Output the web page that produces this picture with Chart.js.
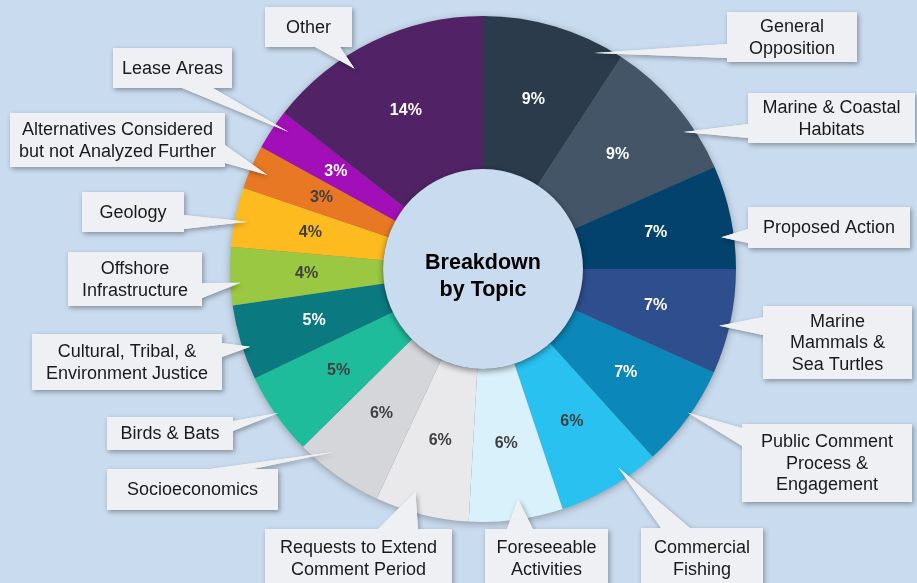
<!DOCTYPE html>
<html>
<head>
<meta charset="utf-8">
<script src="https://cdn.jsdelivr.net/npm/chart.js@4/dist/chart.umd.min.js"></script>
<style>
html, body { margin: 0; padding: 0; background: #c9dbee; }
#wrap { width: 917px; height: 583px; position: relative; overflow: hidden; }
</style>
</head>
<body>
<div id="wrap"><canvas id="c" width="917" height="583"></canvas></div>
<script>
// topics, clockwise from 12 o'clock
const topics = [
  "General\nOpposition", "Marine & Coastal\nHabitats", "Proposed Action",
  "Marine\nMammals &\nSea Turtles", "Public Comment\nProcess &\nEngagement",
  "Commercial\nFishing", "Foreseeable\nActivities", "Requests to Extend\nComment Period",
  "Socioeconomics", "Birds & Bats", "Cultural, Tribal, &\nEnvironment Justice",
  "Offshore\nInfrastructure", "Geology", "Alternatives Considered\nbut not Analyzed Further",
  "Lease Areas", "Other"
]
// share of comments (slice size)
const shares = [9.2, 9.2, 6.6, 6.7, 6.6, 6.6, 6.0, 6.0, 5.7, 5.3, 4.8, 3.7, 3.8, 2.8, 2.6, 14.4]
// printed labels
const pctLabels = ["9%", "9%", "7%", "7%", "7%", "6%", "6%", "6%", "6%", "5%", "5%", "4%", "4%", "3%", "3%", "14%"]
const sliceColors = [
  "#2b3b4c", "#435567", "#03426d", "#2f4e8e", "#0b87b9", "#29c1ef", "#d9f1fb", "#e9e9eb",
  "#d5d6da", "#1fbc9b", "#0b7a80", "#9bc843", "#fdbb1f", "#e87823", "#a20fb8", "#512366"
]
const pctColors = [
  "#fff", "#fff", "#fff", "#fff", "#fff", "#404040", "#404040", "#404040",
  "#404040", "#404040", "#fff", "#404040", "#404040", "#404040", "#fff", "#fff"
]

// callout boxes: box [x,y,w,h], base of the pointer on the box edge,
// t = position of the tip along the slice's angle, rf = fraction of outer radius
const callouts = [
  { box: [727, 12, 130, 50], base: [[727, 44], [727, 58]], t: .82, rf: .96 },
  { box: [748, 93, 167, 50], base: [[748, 124], [748, 138]], t: .68, rf: .96 },
  { box: [748, 207, 162, 41], base: [[748, 229], [748, 243]], t: .68, rf: .95 },
  { box: [763, 306, 149, 73], base: [[763, 317], [763, 335]], t: .56, rf: .96 },
  { box: [742, 424, 170, 78], base: [[742, 428], [742, 446]], t: .46, rf: .99 },
  { box: [641, 528, 122, 60], base: [[661, 528], [690, 528]], t: .33, rf: .95 },
  { box: [485, 529, 123, 58], base: [[507, 529], [533, 529]], t: .45, rf: .92 },
  { box: [265, 529, 187, 58], base: [[378, 529], [418, 529]], t: .63, rf: .92 },
  { box: [107, 469, 171, 41], base: [[210, 469], [253, 469]], t: .69, rf: .93 },
  { box: [107, 417, 126, 33], base: [[233, 421], [233, 431]], t: .5, rf: .99 },
  { box: [32, 334, 190, 56], base: [[222, 343], [222, 357]], t: .41, rf: .97 },
  { box: [68, 252, 134, 54], base: [[202, 283], [202, 298]], t: .38, rf: .96 },
  { box: [82, 192, 102, 40], base: [[184, 215], [184, 229]], t: .46, rf: .95 },
  { box: [10, 113, 215, 54], base: [[225, 145], [225, 163]], t: .48, rf: .93 },
  { box: [113, 48, 119, 40], base: [[182, 88], [213, 88]], t: .68, rf: .94 },
  { box: [265, 7, 87, 40], base: [[315, 47], [340, 47]], t: .37, rf: .94 }
]

const centerTitle = ["Breakdown", "by Topic"]
const bg = "#c9dbee"

// 影付きの外周
const ringShadow = {
  id: "ringShadow",
  beforeDatasetsDraw(chart) {
    const ctx = chart.ctx
    const a = chart.getDatasetMeta(0).data[0].getProps(["x", "y", "outerRadius"], true)
    ctx.save()
    ctx.shadowColor = "rgba(0,0,0,0.35)"
    ctx.shadowBlur = 8
    ctx.shadowOffsetY = 2
    ctx.beginPath()
    ctx.arc(a.x, a.y, a.outerRadius - 1, 0, 2 * Math.PI)
    ctx.fillStyle = "#777"
    ctx.fill()
    ctx.restore()
  }
}

// ラベル、中央の円、吹き出し
const overlay = {
  id: "overlay",
  afterDatasetsDraw(chart) {
    const ctx = chart.ctx
    const arcs = chart.getDatasetMeta(0).data
    const p0 = arcs[0].getProps(["x", "y", "innerRadius"], true)

    // center disc
    ctx.save()
    ctx.shadowColor = "rgba(0,0,0,0.45)"
    ctx.shadowBlur = 6
    ctx.shadowOffsetY = 2
    ctx.beginPath()
    ctx.arc(p0.x, p0.y, p0.innerRadius, 0, 2 * Math.PI)
    ctx.fillStyle = bg
    ctx.fill()
    ctx.restore()

    ctx.save()
    ctx.fillStyle = "#000"
    ctx.font = "bold 21.5px 'Liberation Sans', Arial, sans-serif"
    ctx.textAlign = "center"
    ctx.textBaseline = "middle"
    ctx.fillText(centerTitle[0], p0.x, p0.y - 6)
    ctx.fillText(centerTitle[1], p0.x, p0.y + 21)

    // percent labels
    ctx.font = "bold 16px 'Liberation Sans', Arial, sans-serif"
    arcs.forEach((arc, i) => {
      const p = arc.getProps(["x", "y", "startAngle", "endAngle", "innerRadius", "outerRadius"], true)
      const a = (p.startAngle + p.endAngle) / 2
      const r = (p.innerRadius + p.outerRadius) / 2
      ctx.fillStyle = pctColors[i]
      ctx.fillText(pctLabels[i], p.x + Math.cos(a) * r, p.y + Math.sin(a) * r)
    })
    ctx.restore()

    // callouts
    arcs.forEach((arc, i) => {
      const c = callouts[i]
      const p = arc.getProps(["x", "y", "startAngle", "endAngle", "outerRadius"], true)
      const a = p.startAngle + c.t * (p.endAngle - p.startAngle)
      const tx = p.x + Math.cos(a) * c.rf * p.outerRadius
      const ty = p.y + Math.sin(a) * c.rf * p.outerRadius
      const [bx, by, bw, bh] = c.box
      const shape = () => {
        ctx.beginPath()
        ctx.rect(bx, by, bw, bh)
        ctx.moveTo(c.base[0][0], c.base[0][1])
        ctx.lineTo(tx, ty)
        ctx.lineTo(c.base[1][0], c.base[1][1])
        ctx.closePath()
      }
      ctx.save()
      ctx.shadowColor = "rgba(0,0,0,0.35)"
      ctx.shadowBlur = 5
      ctx.shadowOffsetX = 1.5
      ctx.shadowOffsetY = 2
      ctx.fillStyle = "#eef0f3"
      shape()
      ctx.fill("nonzero")
      ctx.restore()
      ctx.save()
      ctx.fillStyle = "#eef0f3"
      shape()
      ctx.fill("nonzero")
      const lines = topics[i].split("\n")
      ctx.fillStyle = "#1a1a1a"
      ctx.font = "18px 'Liberation Sans', Arial, sans-serif"
      ctx.textAlign = "center"
      ctx.textBaseline = "middle"
      const lh = 21.5
      const cy = by + bh / 2 - (lines.length - 1) * lh / 2
      lines.forEach((s, k) => ctx.fillText(s, bx + bw / 2, cy + k * lh + 1))
      ctx.restore()
    })
  }
}

new Chart(document.getElementById("c"), {
  type: "doughnut",
  data: {
    labels: topics,
    datasets: [{
      data: shares,
      backgroundColor: sliceColors,
      borderWidth: 0
    }]
  },
  options: {
    responsive: false,
    animation: false,
    cutout: "39.5%",
    layout: { padding: { top: 16, bottom: 61, left: 230, right: 181 } },
    plugins: { legend: { display: false }, tooltip: { enabled: false } }
  },
  plugins: [ringShadow, overlay]
})
</script>
</body>
</html>
